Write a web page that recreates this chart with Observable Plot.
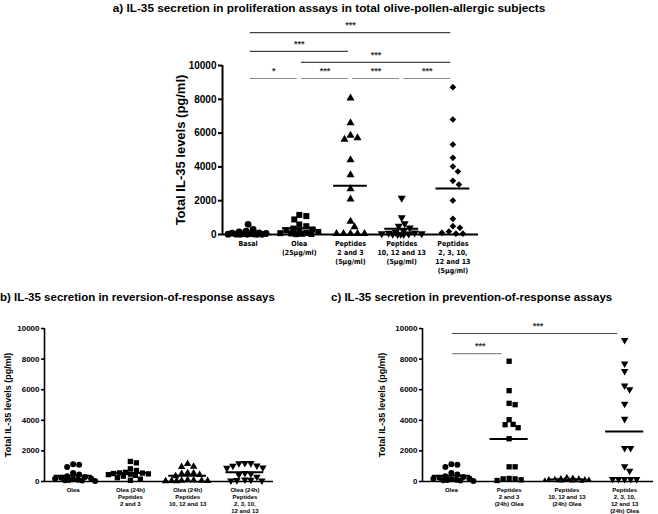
<!DOCTYPE html>
<html><head><meta charset="utf-8">
<script src="https://cdn.jsdelivr.net/npm/d3@7"></script>
<script src="https://cdn.jsdelivr.net/npm/@observablehq/plot@0.6"></script>
<style>
html,body{margin:0;padding:0;background:#fff;}
#root{position:relative;width:658px;height:514px;overflow:hidden;font-family:"Liberation Sans",Arial,sans-serif;}
.panel{position:absolute;}
.title{position:absolute;font-weight:bold;font-size:11.5px;white-space:nowrap;color:#000;z-index:2;}
</style></head><body>
<div id="root">
  <div class="title" style="left:0;width:658px;text-align:center;top:1px;font-size:11.8px;">a) IL-35 secretion in proliferation assays in total olive-pollen-allergic subjects</div>
  <div class="title" style="left:0;top:291px;">b) IL-35 secretion in reversion-of-response assays</div>
  <div class="title" style="left:331px;top:291px;">c) IL-35 secretion in prevention-of-response assays</div>
  <div class="panel" id="pa" style="left:150px;top:16px;width:340px;"></div>
  <div class="panel" id="pb" style="left:0px;top:318px;width:280px;"></div>
  <div class="panel" id="pc" style="left:330px;top:300px;width:328px;"></div>
</div>
<script>
// ---------- data ----------
const yTicks = [0, 2000, 4000, 6000, 8000, 10000];
const yLabel = "Total IL-35 levels (pg/ml)";

// panel a
const catsA = ["Basal", "Olea\n(25µg/ml)", "Peptides\n2 and 3\n(5µg/ml)", "Peptides\n10, 12 and 13\n(5µg/ml)", "Peptides\n2, 3, 10,\n12 and 13\n(5µg/ml)"];
const aBasal = [600, 300, 200, 150, 100, 80, 60, 50, 40, 30, 20, 20, 10, 10, 10, 10];
const aOlea = [1090, 1160, 890, 590, 490, 350, 300, 250, 200, 150, 100, 80, 60, 40, 30, 20];
const aPep23 = [8067, 6607, 5858, 5621, 5720, 4418, 3530, 2702, 2091, 769, 454, 50, 50, 50, 50, 50];
const aPep101213 = [2150, 1000, 650, 500, 400, 200, 150, 100, 80, 60, 50, 40, 30, 20, 10, 10];
const aPepAll = [8720, 6805, 5325, 4536, 4024, 3728, 3176, 2959, 2012, 927, 493, 394, 178, 100, 50, 50];
const aBrackets = [
  {from: 0, to: 4, level: 11950, label: "***", row: 3},
  {from: 0, to: 2, level: 10830, label: "***", row: 2},
  {from: 1, to: 4, level: 10180, label: "***", row: 1},
  {from: 0, to: 1, level: 9230, label: "*", row: 0},
  {from: 1, to: 2, level: 9230, label: "***", row: 0},
  {from: 2, to: 3, level: 9230, label: "***", row: 0},
  {from: 3, to: 4, level: 9230, label: "***", row: 0}
];

// panel b
const catsB = ["Olea", "Olea (24h)\nPeptides\n2 and 3", "Olea (24h)\nPeptides\n10, 12 and 13", "Olea (24h)\nPeptides\n2, 3, 10,\n12 and 13"];
const bOlea = [1120, 1100, 950, 550, 460, 350, 300, 250, 200, 180, 150, 120, 100, 80, 60, 40];
const bOleaPep23 = [1310, 1220, 830, 720, 600, 560, 550, 520, 500, 480, 450, 400, 350, 250, 150, 80];
const bOleaPep101213 = [1160, 980, 960, 550, 540, 440, 500, 350, 100, 80, 60, 60, 50, 40, 30, 20];
const bOleaPepAll = [1200, 1190, 1180, 1030, 1020, 900, 880, 550, 500, 450, 300, 120, 100, 80, 60, 50];
const bBrackets = [];

// panel c
const catsC = ["Olea", "Peptides\n2 and 3\n(24h) Olea", "Peptides\n10, 12 and 13\n(24h) Olea", "Peptides\n2, 3, 10,\n12 and 13\n(24h) Olea"];
const cOlea = [1120, 1100, 950, 550, 460, 350, 300, 250, 200, 180, 150, 120, 100, 80, 60, 40];
const cPep23Olea = [7860, 5939, 5109, 5022, 4039, 3712, 3515, 3734, 2795, 961, 961, 200, 170, 65, 110, 170];
const cPep101213Olea = [300, 250, 220, 200, 180, 150, 150, 120, 100, 100, 80, 60, 50, 40, 30, 20];
const cPepAllOlea = [9236, 7707, 7205, 6266, 6026, 5066, 4083, 2183, 2183, 983, 699, 150, 150, 150, 150, 150];
const cBrackets = [
  {from: 0, to: 3, level: 9672, label: "***", row: 1},
  {from: 0, to: 1, level: 8363, label: "***", row: 0}
];

// ---------- helpers ----------
const triangleDown = {
  draw(context, size) {
    const s3 = Math.sqrt(3);
    const y = -Math.sqrt(size / (s3 * 3));
    context.moveTo(0, -y * 2);
    context.lineTo(-s3 * y, y);
    context.lineTo(s3 * y, y);
    context.closePath();
  }
};

// deterministic beeswarm offsets (pixels) so markers do not overlap
function swarm(vals, pxY, d, maxPx) {
  const order = d3.range(vals.length).sort((a, b) => vals[b] - vals[a]);
  const placed = [], off = new Array(vals.length);
  for (const i of order) {
    const y = vals[i] * pxY;
    let best = 0, bestScore = -1;
    for (let k = 0; k <= 2 * maxPx; k++) {
      const c = (k % 2 ? 1 : -1) * Math.ceil(k / 2);
      let minD = Infinity;
      for (const p of placed) minD = Math.min(minD, Math.hypot(p[0] - c, p[1] - y));
      if (minD >= d) { best = c; bestScore = Infinity; break; }
      if (minD > bestScore + 0.5) { bestScore = minD; best = c; }
    }
    placed.push([best, y]);
    off[i] = best;
  }
  return off;
}

function panel(cfg) {
  const {cats, groups, width, height, mL, mR, mT, mB} = cfg;
  const n = cats.length;
  const pxX = (width - mL - mR) / n;
  const pxY = (height - mT - mB) / 10000;
  const marks = [];
  marks.push(Plot.ruleY([0], {x1: -0.5, x2: n - 0.5, strokeWidth: cfg.axisW, stroke: "#000"}));
  marks.push(Plot.ruleX([-0.5], {y1: 0, y2: 10000, strokeWidth: cfg.axisW, stroke: "#000"}));
  marks.push(Plot.axisY({ticks: yTicks, tickFormat: d3.format("d"), tickSize: cfg.tickSize, tickPadding: 2,
    fontSize: cfg.yFont, fontWeight: "bold", label: null, strokeWidth: cfg.axisW, fill: "#000"}));
  marks.push(Plot.axisX({ticks: d3.range(n), tickFormat: i => cats[i], tickSize: 0, tickPadding: cfg.xPad,
    fontSize: cfg.xFont, fontWeight: "bold", lineHeight: cfg.xLine, label: null, fill: "#000",
    fontFamily: cfg.xFamily}));
  marks.push(Plot.text([yLabel], {frameAnchor: "left", textAnchor: "middle", lineAnchor: "middle", rotate: -90,
    dx: cfg.labelDx, fontSize: cfg.labelSize, fontWeight: cfg.labelWeight, fill: "#000"}));
  groups.forEach((g, i) => {
    const off = swarm(g.values, pxY, cfg.spacing, cfg.maxPx);
    const pts = g.values.map((v, j) => ({x: i + off[j] / pxX, y: v}));
    marks.push(Plot.dot(pts, {x: "x", y: "y", symbol: g.symbol, r: g.r, fill: "#000", stroke: "none"}));
  });
  const means = groups.map((g, i) => ({i, m: d3.mean(g.values)}));
  marks.push(Plot.ruleY(means, {x1: d => d.i - 0.33, x2: d => d.i + 0.33, y: "m", strokeWidth: 2, stroke: "#000"}));
  const br = cfg.brackets;
  marks.push(Plot.ruleY(br.filter(d => d.row === 0), {x1: d => d.from + cfg.inset, x2: d => d.to - cfg.inset2, y: "level", stroke: "#8a8a8a", strokeWidth: 1.2}));
  marks.push(Plot.ruleY(br.filter(d => d.row > 0), {x1: d => d.from + cfg.inset, x2: d => d.to - cfg.inset2, y: "level", stroke: "#444", strokeWidth: 1.2}));
  marks.push(Plot.text(br, {x: d => (d.from + d.to) / 2, y: "level", text: "label", dy: -7, fontSize: 9, fill: "#333", fontWeight: "bold"}));

  return Plot.plot({
    width, height, marginLeft: mL, marginRight: mR, marginTop: mT, marginBottom: mB,
    x: {domain: [-0.5, n - 0.5]},
    y: {domain: [0, 10000]},
    style: {fontFamily: '"Liberation Sans", Arial, sans-serif', background: "transparent", color: "#000", overflow: "visible"},
    marks
  });
}

const A = panel({
  cats: catsA,
  groups: [
    {values: aBasal, symbol: "circle", r: 3.4},
    {values: aOlea, symbol: "square", r: 3.4},
    {values: aPep23, symbol: "triangle", r: 3.0},
    {values: aPep101213, symbol: triangleDown, r: 3.0},
    {values: aPepAll, symbol: "diamond2", r: 3.0}
  ],
  width: 340, height: 280, mL: 72, mR: 12, mT: 49, mB: 62,
  axisW: 2, tickSize: 4, yFont: 10, xFont: 7, xLine: 1.3, xPad: 5,
  xFamily: '"DejaVu Sans Condensed", "DejaVu Sans", sans-serif',
  labelDx: -42, labelSize: 13, labelWeight: "bold",
  spacing: 6.5, maxPx: 20, brackets: aBrackets, inset: 0.04, inset2: 0.04
});
document.getElementById("pa").appendChild(A);

const B = panel({
  cats: catsB,
  groups: [
    {values: bOlea, symbol: "circle", r: 3.0},
    {values: bOleaPep23, symbol: "square", r: 3.0},
    {values: bOleaPep101213, symbol: "triangle", r: 2.8},
    {values: bOleaPepAll, symbol: triangleDown, r: 2.8}
  ],
  width: 280, height: 196, mL: 44, mR: 7, mT: 10, mB: 33,
  axisW: 1.6, tickSize: 3, yFont: 8, xFont: 6, xLine: 1.2, xPad: 5,
  xFamily: '"Liberation Sans", Arial, sans-serif',
  labelDx: -36, labelSize: 9, labelWeight: "bold",
  spacing: 6, maxPx: 22, brackets: bBrackets, inset: 0.04, inset2: 0.04
});
document.getElementById("pb").appendChild(B);

const C = panel({
  cats: catsC,
  groups: [
    {values: cOlea, symbol: "circle", r: 3.0},
    {values: cPep23Olea, symbol: "square", r: 3.0},
    {values: cPep101213Olea, symbol: "triangle", r: 2.0},
    {values: cPepAllOlea, symbol: triangleDown, r: 2.8}
  ],
  width: 328, height: 214, mL: 92, mR: 5, mT: 28, mB: 33,
  axisW: 1.6, tickSize: 3, yFont: 8, xFont: 6, xLine: 1.2, xPad: 5,
  xFamily: '"Liberation Sans", Arial, sans-serif',
  labelDx: -40, labelSize: 9, labelWeight: "bold",
  spacing: 6, maxPx: 22, brackets: cBrackets, inset: 0.02, inset2: 0.12
});
document.getElementById("pc").appendChild(C);
</script>
</body></html>
